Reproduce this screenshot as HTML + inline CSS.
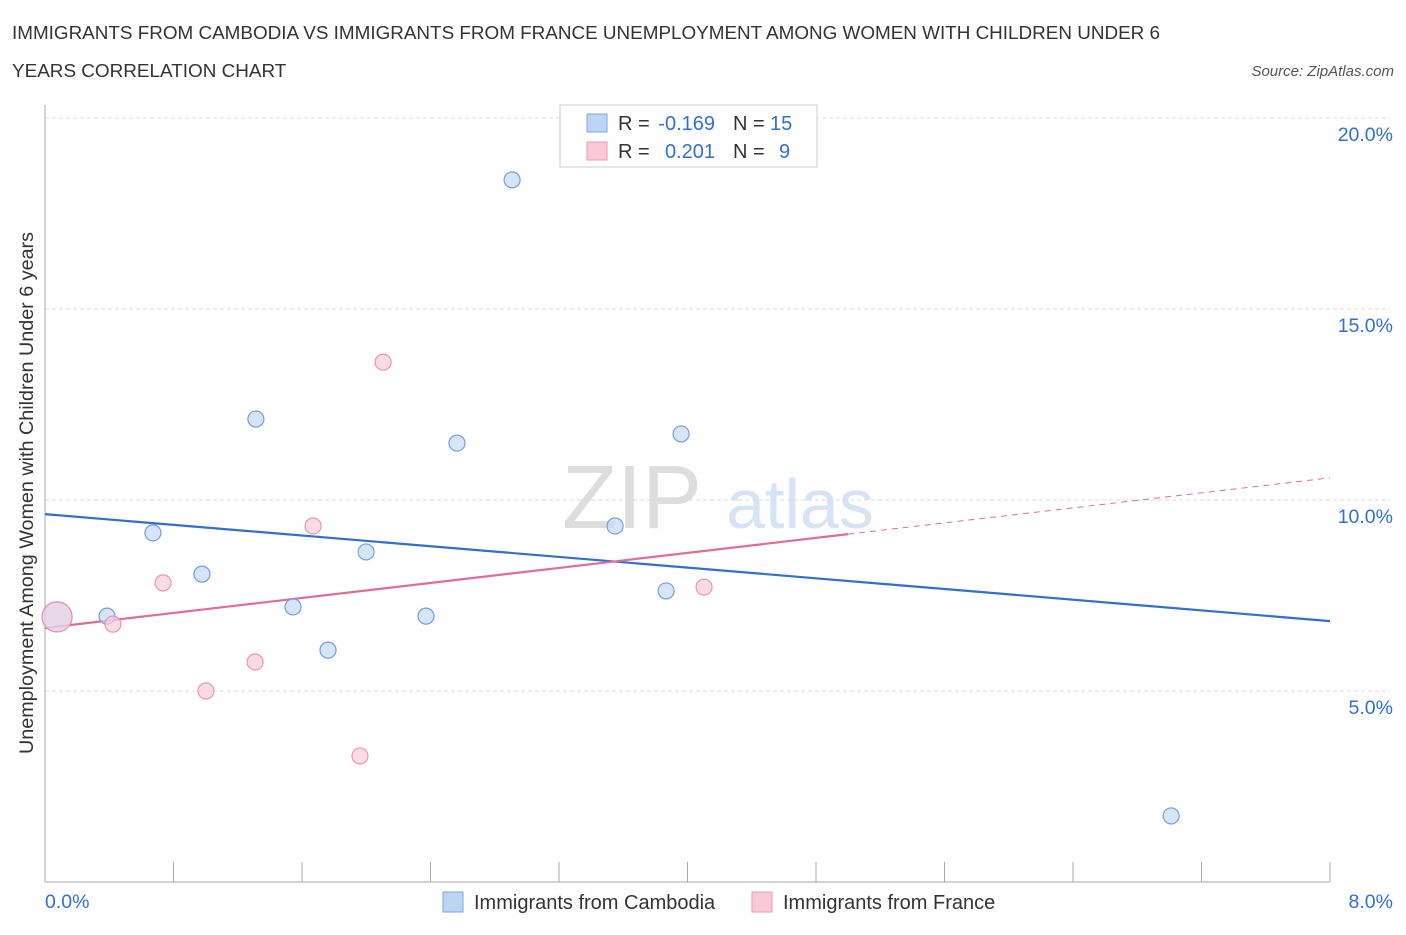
<!DOCTYPE html>
<html><head><meta charset="utf-8"><style>
body{margin:0;background:#fff;font-family:"Liberation Sans",sans-serif;}
svg text{font-family:"Liberation Sans",sans-serif;}
</style></head><body>
<svg id="c" width="1406" height="930">
<text x="12" y="39" font-size="18.9" fill="#333" textLength="1148" lengthAdjust="spacingAndGlyphs">IMMIGRANTS FROM CAMBODIA VS IMMIGRANTS FROM FRANCE UNEMPLOYMENT AMONG WOMEN WITH CHILDREN UNDER 6</text>
<text x="12" y="77" font-size="18.9" fill="#333">YEARS CORRELATION CHART</text>
<text x="1394" y="76" font-size="15" fill="#555" font-style="italic" text-anchor="end">Source: ZipAtlas.com</text>
<text x="632" y="528" font-size="90" fill="#ddd" font-family="Liberation Serif" text-anchor="middle">ZIP</text>
<text x="800" y="528" font-size="70" fill="#d6e4f5" text-anchor="middle">atlas</text>
<text x="33" y="493" font-size="19.5" fill="#333" text-anchor="middle" transform="rotate(-90 33 493)" textLength="522" lengthAdjust="spacingAndGlyphs">Unemployment Among Women with Children Under 6 years</text>
<g id="grid"></g><g id="lines"></g><g id="pts"></g>
<g>
<rect x="560" y="105" width="257" height="62" fill="#fff" stroke="#ccc"/>
<rect x="587" y="114" width="20" height="18" fill="#bcd5f5" stroke="#7aa7e6"/>
<rect x="587" y="142" width="20" height="18" fill="#f9c9d7" stroke="#ee9ab4"/>
<text x="618" y="130" font-size="20" fill="#333">R =</text>
<text x="715" y="130" font-size="20" fill="#2f6fd6" text-anchor="end">-0.169</text>
<text x="733" y="130" font-size="20" fill="#333">N =</text>
<text x="770" y="130" font-size="20" fill="#2f6fd6">15</text>
<text x="618" y="158" font-size="20" fill="#333">R =</text>
<text x="715" y="158" font-size="20" fill="#2f6fd6" text-anchor="end">0.201</text>
<text x="733" y="158" font-size="20" fill="#333">N =</text>
<text x="779" y="158" font-size="20" fill="#2f6fd6">9</text>
</g>
<g>
<rect x="443" y="892" width="20" height="20" fill="#bcd5f5" stroke="#7aa7e6"/>
<text x="474" y="909" font-size="20" fill="#333">Immigrants from Cambodia</text>
<rect x="752" y="892" width="20" height="20" fill="#f9c9d7" stroke="#ee9ab4"/>
<text x="783" y="909" font-size="20" fill="#333">Immigrants from France</text>
</g>
</svg>
<script>
const yTicks=[5,10,15,20];
const yTickLabels=["5.0%","10.0%","15.0%","20.0%"];
const blueX=[0.075,0.386,0.672,0.977,1.313,1.544,1.762,1.999,2.372,2.565,2.908,3.549,3.867,3.960,7.011];
const blueY=[6.94,6.96,9.14,8.06,12.12,7.20,6.07,8.64,6.96,11.49,18.38,9.32,7.62,11.73,1.73];
const pinkX=[0.075,0.423,0.735,1.002,1.308,1.669,1.961,2.105,4.103];
const pinkY=[6.94,6.75,7.83,5.00,5.76,9.32,3.30,13.61,7.72];
const blueTrend=[9.63,6.83];
const pinkTrend=[6.65,10.58];
const pinkSolidEnd=5.0;
const X=v=>45+v*(1285/8), Y=v=>882-v*38.2;
const NS="http://www.w3.org/2000/svg";
function mk(t,a,p){const e=document.createElementNS(NS,t);for(const k in a)e.setAttribute(k,a[k]);p.appendChild(e);return e;}
const g=document.getElementById('grid');
yTicks.forEach((t,i)=>{
 const l=mk('line',{x1:45,x2:1390,y1:Y(t),y2:Y(t),stroke:'#ddd','stroke-dasharray':'4,3'},g);
 
 
 const tx=mk('text',{x:1393,y:Y(t)+23,'font-size':19.5,fill:'#2f6fd6','text-anchor':'end'},g);
 tx.textContent=yTickLabels[i];
 
 
});
const ax=mk('line',{x1:45,x2:1330,y1:882,y2:882,stroke:'#aaa'},g);


const ay=mk('line',{x1:45,x2:45,y1:105,y2:882,stroke:'#aaa'},g);


for(let i=1;i<=10;i++){const t=mk('line',{x1:X(i*0.8),x2:X(i*0.8),y1:862,y2:882,stroke:'#aaa'},g);
 
 }
[["0.0%",45,'start'],["8.0%",1393,'end']].forEach(d=>{const t=mk('text',{x:d[1],y:908,'font-size':19.5,fill:'#2f6fd6','text-anchor':d[2]},g);t.textContent=d[0];
 
 });
const L=document.getElementById('lines');
const b=mk('line',{x1:X(0),y1:Y(blueTrend[0]),x2:X(8),y2:Y(blueTrend[1]),stroke:'#2f6fd6','stroke-width':2.2},L);


const pe=pinkTrend[0]+(pinkTrend[1]-pinkTrend[0])*pinkSolidEnd/8;
const p1=mk('line',{x1:X(0),y1:Y(pinkTrend[0]),x2:X(pinkSolidEnd),y2:Y(pe),stroke:'#e56b96','stroke-width':2.2},L);


const p2=mk('line',{x1:X(pinkSolidEnd),y1:Y(pe),x2:X(8),y2:Y(pinkTrend[1]),stroke:'#e56b96','stroke-width':1,'stroke-dasharray':'6,5'},L);


const P=document.getElementById('pts');
function dots(xs,ys,fill,stroke,name,op){xs.forEach((x,i)=>{const r=i===0?15:8;
 const c=mk('circle',{cx:X(x),cy:Y(ys[i]),r:r,fill:fill,'fill-opacity':i===0?op:0.7,stroke:stroke,'stroke-width':1.2},P);
 
 });}
dots(blueX,blueY,'#c5daf6','#6f9fe0','cambodia-point',0.7);
dots(pinkX,pinkY,'#f9cddb','#ec93b0','france-point',0.5);
</script>
</body></html>
